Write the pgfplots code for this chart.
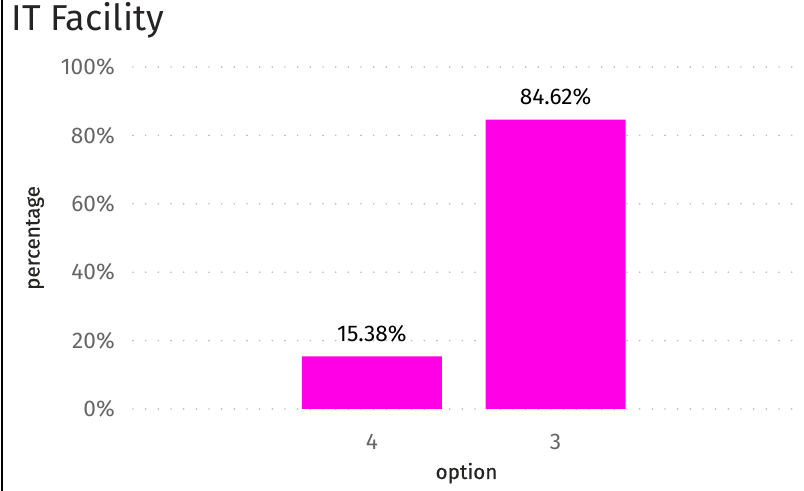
\documentclass[border=0pt]{standalone}
\usepackage{pgfplots}
\pgfplotsset{compat=1.18}
\usepackage{fontspec}
\setmainfont{Fira Sans}
\newfontfamily\medfont{Fira Sans}[FakeBold=0.5]
\definecolor{barc}{RGB}{255,0,230}
\definecolor{tickc}{RGB}{102,102,102}
\definecolor{titlec}{RGB}{37,36,35}
\definecolor{gridc}{RGB}{190,190,190}
\begin{document}
\begin{tikzpicture}
\path[use as bounding box] (0pt,0pt) rectangle (603pt,368.25pt);
\draw[line width=1.3pt] (1.35pt,0pt) -- (1.35pt,368.25pt);
\node[anchor=west, text=titlec, inner sep=0, font=\fontsize{27}{31}\selectfont] at (8.5pt,353pt) {IT Facility};
\begin{axis}[
  at={(99.75pt,61.5pt)}, anchor=south west, scale only axis,
  width=500.25pt, height=256.5pt,
  ymin=0, ymax=100, xmin=-1.30, xmax=2.33,
  axis line style={draw=none}, tick style={draw=none},
  ymajorgrids, grid style={gridc, line width=1.4pt, line cap=round, dash pattern=on 0pt off 9.5pt},
  ytick={0,20,...,100},
  yticklabel={\pgfmathprintnumber{\tick}\%},
  yticklabel style={inner sep=0, xshift=-13.5pt},
  xtick={0,1}, xticklabels={4,3},
  xticklabel style={inner sep=0, yshift=-14pt},
  ticklabel style={text=tickc, font=\fontsize{17}{20}\selectfont},
  /pgf/number format/assume math mode=true,
  ybar, bar width=105pt,
  nodes near coords={\pgfmathprintnumber[fixed,precision=2,fixed zerofill]{\pgfplotspointmeta}\%},
  nodes near coords style={anchor=south, inner sep=0, yshift=10.5pt, text=black, font=\fontsize{17}{20}\selectfont},
  xlabel={option}, ylabel={percentage},
  xlabel style={at={(axis description cs:0.5,-0.1875)}, anchor=center, text=titlec, font=\medfont\fontsize{15.5}{18}\selectfont},
  ylabel style={at={(axis description cs:-0.147,0.5)}, anchor=center, text=titlec, font=\medfont\fontsize{15.5}{18}\selectfont},
]
\addplot[fill=barc, draw=none] coordinates {(0,15.38) (1,84.62)};
\end{axis}
\end{tikzpicture}
\end{document}
